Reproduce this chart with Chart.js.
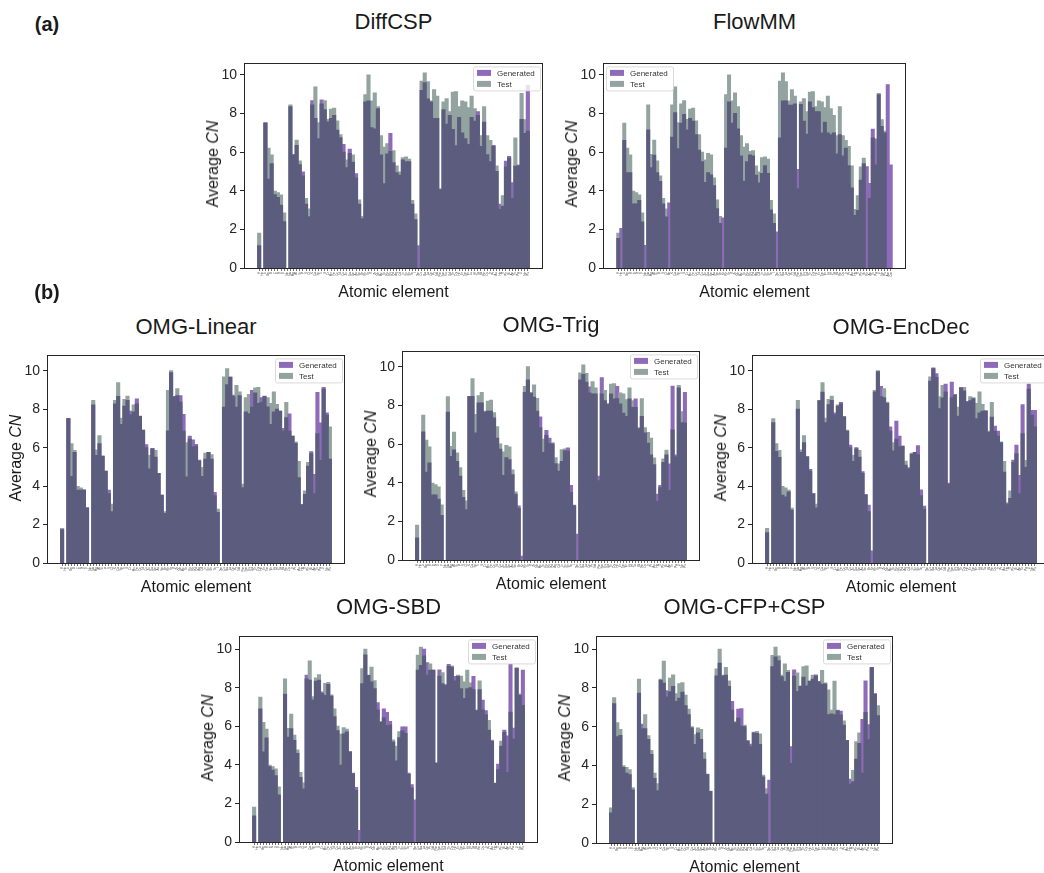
<!DOCTYPE html>
<html>
<head>
<meta charset="utf-8">
<script src="https://cdn.jsdelivr.net/npm/chart.js@4.4.0/dist/chart.umd.min.js"></script>
<style>
  body { margin: 0; width: 1044px; height: 873px; overflow: hidden; background: #fff; position: relative;
         font-family: "Liberation Sans", Arial, sans-serif; color: #1a1a1a; }
  canvas { position: absolute; }
  .txt { position: absolute; white-space: nowrap; transform: translate(-50%, -50%); }
  .title { font-size: 22px; }
  .xlab { font-size: 16px; }
  .ylab { font-size: 16px; transform: translate(-50%, -50%) rotate(-90deg); }
  .tag { font-size: 20px; font-weight: bold; }
</style>
</head>
<body>
<script>
// element order on the x axis (test set)
const ELEMENTS = ['H','He','Li','Be','B','C','N','O','F','Ne',
  'Na','Mg','Al','Si','P','S','Cl','K','Ca','Sc',
  'Ti','V','Cr','Mn','Fe','Co','Ni','Cu','Zn','Ga',
  'Ge','As','Se','Br','Rb','Sr','Y','Zr','Nb','Mo',
  'Tc','Ru','Rh','Pd','Ag','Cd','In','Sn','Sb','Te',
  'I','Xe','Cs','Ba','La','Ce','Pr','Nd','Pm','Sm',
  'Eu','Gd','Tb','Dy','Ho','Er','Tm','Yb','Lu','Hf',
  'Ta','W','Re','Os','Ir','Pt','Au','Hg','Tl','Pb',
  'Bi','Ac','Th','Pa','U','Np','Pu'];

// average CN of the test set, same order as ELEMENTS
const TEST_CN = [1.8,0,7.5,6.2,5.85,3.98,3.9,3.78,2.85,0,
  8.45,5.88,6.62,5.54,4.77,3.6,3.06,8.45,9.38,7.53,
  8.5,8.67,7.7,8.22,8.27,7.62,6.9,6.0,5.59,5.93,
  5.85,4.66,3.52,2.67,8.98,10.0,8.65,9.06,8.36,6.85,
  6.25,6.44,6.03,6.07,5.29,4.97,5.71,5.75,5.63,3.5,
  2.8,0,9.68,10.1,9.65,8.65,9.23,8.9,4.1,8.6,
  8.77,8.1,9.1,9.13,8.35,8.65,8.6,8.3,8.9,8.25,
  7.9,6.85,8.35,6.85,6.6,6.3,5.28,3.03,3.74,5.23,
  5.68,3.6,6.73,5.33,9.04,7.68,7.08];

function insertAfter(list, after, el) {
  const i = list.indexOf(after);
  return [...list.slice(0, i + 1), el, ...list.slice(i + 1)];
}
// some models generate extra elements, which get their own column
const ELEMENTS_KR = insertAfter(ELEMENTS, 'Br', 'Kr');
const ELEMENTS_FLOWMM = [...insertAfter(insertAfter(insertAfter(ELEMENTS, 'Cl', 'Ar'), 'Br', 'Kr'), 'Bi', 'Rn'), 'Am', 'Cm'];
const ELEMENTS_CFP = ELEMENTS_KR.filter(e => e !== 'He');

// generated average CN, one list per model
const DIFFCSP_GEN = [1.15,0,7.52,4.6,5.4,3.8,3.65,3.25,2.4,0,
  8.35,5.85,6.35,5.35,4.97,3.3,2.65,8.66,7.75,6.7,
  8.7,8.2,7.57,7.74,7.9,7.14,6.75,6.4,5.2,6.15,
  5.48,4.88,3.3,2.55,8.6,8.65,7.26,7.2,8.25,5.86,
  4.37,5.9,6.97,5.45,4.93,4.8,5.6,5.5,5.5,3.3,
  2.5,1.15,9.2,9.6,8.76,8.6,7.74,7.74,4.05,8.2,
  7.45,7.9,7.18,6.34,7.8,7.0,6.7,6.4,7.8,7.6,
  8.1,6.3,7.55,5.87,5.5,6.35,5.0,3.3,3.2,5.53,
  5.78,4.42,5.27,5.3,7.7,6.97,9.45];

const FLOWMM_GEN = [1.53,2.04,6.6,4.94,4.94,3.32,3.32,3.5,2.38,1.16,
  7.15,5.2,5.84,4.94,4.48,3.32,2.64,3.37,6.78,8.04,
  6.18,7.5,7.95,7.15,7.75,7.6,6.9,6.1,5.5,4.43,
  4.94,4.82,4.26,3.07,2.3,2.59,6.2,8.6,7.5,8.0,
  7.2,5.8,4.5,5.5,5.85,5.8,4.8,4.4,4.9,5.3,
  4.9,3.0,2.3,1.87,6.73,8.65,8.65,8.43,8.43,8.5,
  5.1,8.47,7.6,6.93,8.6,8.3,8.1,8.1,7.0,7.55,
  7.0,6.9,7.0,5.9,6.9,5.8,6.2,5.3,4.14,2.72,
  2.98,4.55,5.4,5.25,4.38,7.19,6.68,8.98,7.33,7.0,
  9.49,5.33];

const LINEAR_GEN = [1.73,0,7.52,4.5,5.75,3.78,3.78,3.8,2.87,0,
  8.22,5.59,6.2,5.57,4.77,3.79,2.67,8.27,8.66,7.2,
  8.15,8.45,7.9,7.85,8.53,7.64,6.9,6.15,4.89,5.96,
  5.5,4.66,3.52,2.58,6.87,9.9,8.65,8.7,8.7,7.73,
  4.47,6.6,6.4,6.17,5.35,4.5,5.4,5.75,5.4,3.67,
  2.63,0,8.1,9.27,9.67,8.73,8.1,8.7,3.92,7.85,
  7.76,8.97,8.85,8.3,8.6,8.67,8.12,7.2,7.85,8.0,
  7.9,7.0,7.55,7.75,6.6,6.22,4.43,3.03,3.57,5.03,
  5.79,4.6,8.87,7.28,9.13,7.8,5.4];

const TRIG_GEN = [1.14,0,6.63,4.54,5.02,3.37,3.37,3.15,2.3,0,
  7.65,5.36,5.7,5.1,4.34,3.23,2.6,8.47,8.47,6.58,
  8.13,8.13,7.65,7.7,7.7,7.35,6.3,5.73,4.37,5.3,
  5.19,4.42,3.4,2.8,0.2,
  8.67,9.32,8.64,8.42,7.7,7.4,5.56,6.7,6.3,6.0,
  4.98,4.6,5.1,5.65,5.8,3.86,2.84,1.33,
  9.32,9.6,9.2,8.96,8.59,8.59,4.34,9.44,8.25,8.04,8.59,8.33,
  8.98,8.08,7.6,7.43,8.33,7.9,8.33,6.8,7.43,6.58,6.04,5.44,4.93,
  3.4,3.86,5.05,5.44,4.97,9.0,5.44,8.9,7.1,8.67];

const ENCDEC_GEN = [1.58,0,7.3,5.8,5.49,3.52,3.43,3.69,2.74,0,
  8.0,5.75,6.26,5.52,4.87,3.6,2.86,8.44,8.88,7.3,
  8.23,8.45,7.8,8.15,8.35,7.6,6.86,6.12,5.28,6.0,
  5.5,4.75,3.57,3.0,0.63,
  8.9,9.95,9.18,8.6,8.3,7.07,5.83,7.38,6.6,6.07,
  5.08,4.9,5.66,5.75,6.1,3.8,2.95,0,
  9.45,10.15,9.85,8.03,8.58,9.3,4.15,9.4,8.74,7.63,9.12,8.95,
  8.4,8.44,8.54,7.5,7.8,7.89,7.92,6.8,7.58,7.12,6.86,6.26,4.72,
  3.12,3.35,5.35,6.12,4.55,8.23,4.97,9.3,7.93,7.93];

const SBD_GEN = [1.35,0,6.9,4.66,5.39,3.9,3.72,3.43,2.44,0,
  7.66,5.43,5.87,5.26,4.59,3.34,2.75,8.64,8.38,7.36,
  8.33,8.38,7.78,7.6,8.17,7.56,6.5,5.77,3.98,5.6,
  5.7,4.68,3.57,2.83,0.6,
  8.2,9.7,8.63,8.29,7.95,7.22,6.2,6.9,6.72,6.25,
  5.19,4.2,5.4,5.96,5.96,3.57,2.97,2.18,
  8.9,9.15,10.0,9.3,8.9,8.9,4.08,8.92,8.2,8.15,9.2,9.06,
  8.58,8.58,7.95,7.44,7.95,8.0,8.58,6.8,7.9,7.35,6.8,5.79,5.22,
  3.05,4.03,4.97,5.79,5.5,9.2,5.9,9.0,7.6,8.9];

const CFP_GEN = [1.55,7.18,5.48,5.55,3.9,3.6,3.52,2.73,0,7.73,
  6.13,5.89,5.34,4.57,3.33,2.7,8.4,8.24,7.85,7.8,
  8.07,7.3,7.47,7.78,7.08,6.62,5.94,5.08,5.68,5.34,
  4.32,3.55,2.66,0.03,8.62,9.27,8.62,8.65,8.07,7.3,
  6.2,6.9,6.93,6.0,5.25,5.1,5.68,5.65,5.08,3.41,
  2.52,3.24,9.1,9.6,9.4,8.58,8.33,8.8,4.97,8.92,
  7.82,8.07,8.55,8.1,8.35,8.45,8.67,8.33,8.19,8.2,
  6.62,6.65,6.62,6.83,6.8,6.07,5.29,3.29,3.16,4.32,
  5.14,6.37,8.36,6.1,9.06,7.7,6.57];

const Y_TICKS = [0, 2, 4, 6, 8, 10];

// box = [left, top, width, height] of the axes frame in page pixels
const PANELS = [
  {title: 'DiffCSP', elements: ELEMENTS, gen: DIFFCSP_GEN, box: [244, 60, 299, 208], ymax: 10.6, titleY: 22, legend: 'right'},
  {title: 'FlowMM', elements: ELEMENTS_FLOWMM, gen: FLOWMM_GEN, box: [603, 60, 303, 208], ymax: 10.6, titleY: 22, legend: 'left'},
  {title: 'OMG-Linear', elements: ELEMENTS, gen: LINEAR_GEN, box: [47, 352, 298, 211], ymax: 10.8, titleY: 327, legend: 'right'},
  {title: 'OMG-Trig', elements: ELEMENTS_KR, gen: TRIG_GEN, box: [402, 348, 298, 212], ymax: 10.8, titleY: 325, legend: 'right'},
  {title: 'OMG-EncDec', elements: ELEMENTS_KR, gen: ENCDEC_GEN, box: [752, 352, 298, 211], ymax: 10.8, titleY: 327, legend: 'right'},
  {title: 'OMG-SBD', elements: ELEMENTS_KR, gen: SBD_GEN, box: [239, 633, 299, 209], ymax: 10.66, titleY: 607, legend: 'right'},
  {title: 'OMG-CFP+CSP', elements: ELEMENTS_CFP, gen: CFP_GEN, box: [596, 633, 297, 210], ymax: 10.66, titleY: 607, legend: 'right'}
];

// translucent purple (generated) under translucent slate (test), flattened
const GEN_COLOR = '#8e6bb8';
const TEST_COLOR = '#93a4a0';
const BOTH_COLOR = '#5c5c7e';
const PAD = {left: 45, top: 8, right: 10, bottom: 24};

// axes frame and the small legend inside the plot
const framePlugin = {
  id: 'frame',
  afterDatasetsDraw(chart, args, opts) {
    const ctx = chart.ctx, a = chart.chartArea;
    ctx.save();
    const w = 67, h = 24;
    const x = opts.side === 'left' ? a.left + 3 : a.right - 3 - w;
    const y = a.top + 3;
    ctx.fillStyle = 'rgba(255,255,255,0.8)';
    ctx.strokeStyle = '#d0d0d0';
    ctx.lineWidth = 0.8;
    ctx.beginPath();
    ctx.roundRect(x + 0.5, y + 0.5, w, h, 2);
    ctx.fill();
    ctx.stroke();
    const rows = [['Generated', GEN_COLOR], ['Test', TEST_COLOR]];
    ctx.font = '8px "Liberation Sans", Arial, sans-serif';
    ctx.textBaseline = 'middle';
    rows.forEach(([label, color], i) => {
      const cy = y + 6.5 + i * 11;
      ctx.fillStyle = color;
      ctx.fillRect(x + 4, cy - 3, 14, 6);
      ctx.fillStyle = '#333';
      ctx.fillText(label, x + 24, cy + 0.5);
    });
    ctx.strokeStyle = '#262626';
    ctx.lineWidth = 1;
    ctx.strokeRect(Math.round(a.left) + 0.5, Math.round(a.top) + 0.5, Math.round(a.width) - 1, Math.round(a.height));
    ctx.restore();
  }
};

function addText(cls, html, x, y) {
  const d = document.createElement('div');
  d.className = 'txt ' + cls;
  d.innerHTML = html;
  d.style.left = x + 'px';
  d.style.top = y + 'px';
  document.body.appendChild(d);
}

function makePanel(p) {
  const n = p.elements.length;
  const test = p.elements.map(e => {
    const k = ELEMENTS.indexOf(e);
    return k < 0 ? 0 : TEST_CN[k];
  });
  // upper layer: the taller of the two series, coloured by which one it is;
  // lower layer: the part both series share
  const upper = p.gen.map((g, i) => ({x: i, y: Math.max(g, test[i]) || null}));
  const upperColors = p.gen.map((g, i) => g > test[i] ? GEN_COLOR : TEST_COLOR);
  const shared = p.gen.map((g, i) => ({x: i, y: Math.min(g, test[i]) || null}));

  const [left, top, w, h] = p.box;
  const canvas = document.createElement('canvas');
  canvas.width = w + PAD.left + PAD.right;
  canvas.height = h + PAD.top + PAD.bottom;
  canvas.style.left = (left - PAD.left) + 'px';
  canvas.style.top = (top - PAD.top) + 'px';
  document.body.appendChild(canvas);

  new Chart(canvas.getContext('2d'), {
    type: 'bar',
    data: {
      datasets: [
        {label: 'Generated / Test', data: upper, backgroundColor: upperColors, order: 1},
        {label: 'Both', data: shared, backgroundColor: BOTH_COLOR, order: 0}
      ]
    },
    options: {
      responsive: false,
      animation: false,
      devicePixelRatio: 1,
      layout: {padding: {left: 0, top: PAD.top, right: PAD.right, bottom: 0}},
      datasets: {bar: {grouped: false, barPercentage: 1, categoryPercentage: 1, borderWidth: 0, inflateAmount: 0.5}},
      plugins: {legend: {display: false}, tooltip: {enabled: false}, frame: {side: p.legend}},
      scales: {
        x: {
          type: 'linear',
          offset: false,
          min: -0.5 - 0.05 * n,
          max: n - 0.5 + 0.05 * n,
          afterBuildTicks: s => { s.ticks = p.elements.map((e, i) => ({value: i})); },
          afterFit: s => { s.height = PAD.bottom; },
          grid: {display: true, offset: false, drawOnChartArea: false, drawTicks: true, tickLength: 3, color: '#333', lineWidth: 0.7},
          border: {display: false},
          ticks: {
            autoSkip: false, minRotation: 90, maxRotation: 90, padding: 1,
            font: {size: 3, family: '"Liberation Sans", Arial, sans-serif'}, color: '#555',
            callback: (v, i) => p.elements[i]
          }
        },
        y: {
          min: 0,
          max: p.ymax,
          afterBuildTicks: s => { s.ticks = Y_TICKS.map(v => ({value: v})); },
          afterFit: s => { s.width = PAD.left; },
          grid: {display: true, drawOnChartArea: false, drawTicks: true, tickLength: 4, color: '#262626', lineWidth: 1},
          border: {display: false},
          ticks: {padding: 3, font: {size: 14, family: '"Liberation Sans", Arial, sans-serif'}, color: '#262626'}
        }
      }
    },
    plugins: [framePlugin]
  });

  addText('title', p.title, left + w / 2, p.titleY);
  addText('xlab', 'Atomic element', left + w / 2, top + h + 24);
  addText('ylab', 'Average <i>CN</i>', left - 31, top + h / 2);
}

PANELS.forEach(makePanel);
addText('tag', '(a)', 47, 24);
addText('tag', '(b)', 47, 292);
</script>
</body>
</html>
